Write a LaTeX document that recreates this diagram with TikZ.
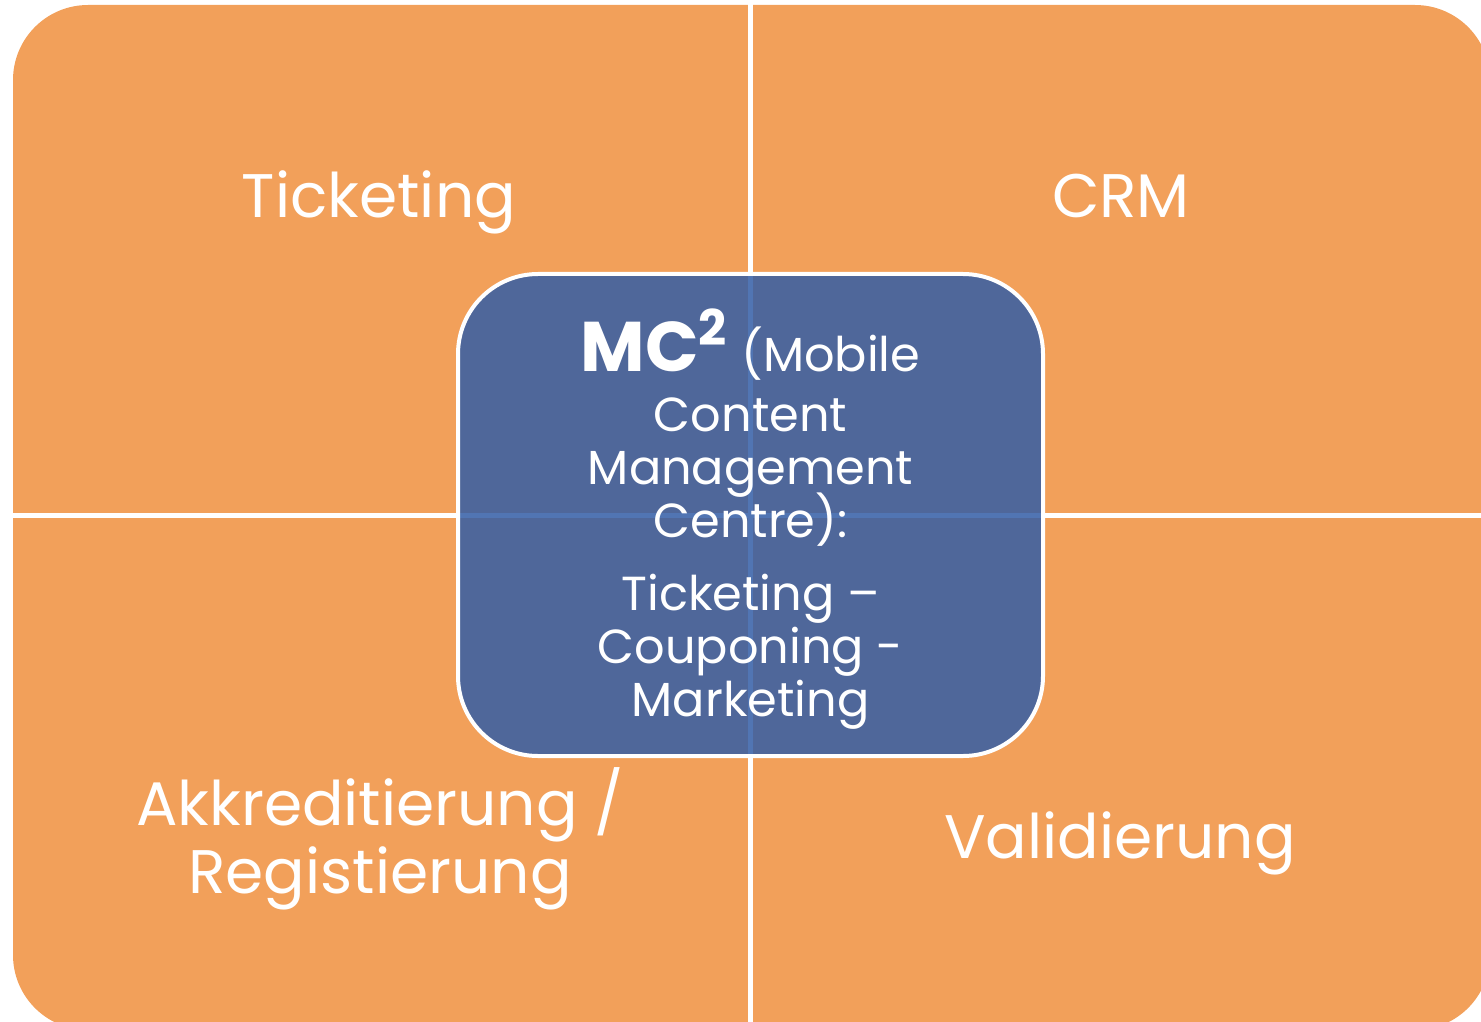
\documentclass[tikz,border=0pt]{standalone}
\usepackage{fontspec}
\setmainfont{Poppins}
\usetikzlibrary{positioning}
\definecolor{quadorange}{RGB}{242,160,90}
\definecolor{hubblue}{RGB}{51,94,166}
\newcommand\hubfont{\fontsize{13.6}{15}\selectfont\setlength{\lineskiplimit}{-20pt}}
\tikzset{
  quadlabel/.style={text=white,font=\fontsize{17.5}{19.3}\selectfont,align=center,inner sep=0pt},
  hub/.style={draw=white,line width=0.04cm,fill=hubblue,fill opacity=0.85,rounded corners=0.8cm,
              minimum width=5.85cm,minimum height=4.82cm,inner sep=0pt},
  hubtext/.style={text=white,font=\hubfont,align=center,inner sep=0pt},
  divider/.style={white,line width=0.05cm}
}

\begin{document}
\begin{tikzpicture}
  \useasboundingbox (0,0) rectangle (14.81,-10.22);
  \clip (0,0) rectangle (14.81,-10.22);
  \fill[quadorange,rounded corners=0.75cm] (0.13,-0.05) rectangle (14.90,-10.30);
  \coordinate (vtop) at (7.505,0);
  \coordinate (vbot) at (7.505,-10.22);
  \coordinate (hleft) at (0,-5.155);
  \coordinate (hright) at (14.81,-5.155);
  \draw[divider] (vtop) -- (vbot);
  \draw[divider] (hleft) -- (hright);

  \node[quadlabel,anchor=base] (ticketing) at (3.79,-2.17) {Ticketing};
  \node[quadlabel,anchor=base] (crm) at (11.21,-2.17) {CRM};
  \node[quadlabel,anchor=north] (akkred) at (3.80,-7.67) {Akkreditierung /\\Registierung};
  \node[quadlabel,anchor=base] (valid) at (11.20,-8.58) {Validierung};

  \node[hub] (mc) at (7.505,-5.15) {};
  \node[hubtext,anchor=north] (mctext) at (7.505,-3.08)
    {{\bfseries\fontsize{20}{15}\selectfont MC\textsuperscript{2}} (Mobile\\[2pt]Content\\Management\\Centre):\\[6pt]
     Ticketing –\\Couponing -\\Marketing};
\end{tikzpicture}
\end{document}
